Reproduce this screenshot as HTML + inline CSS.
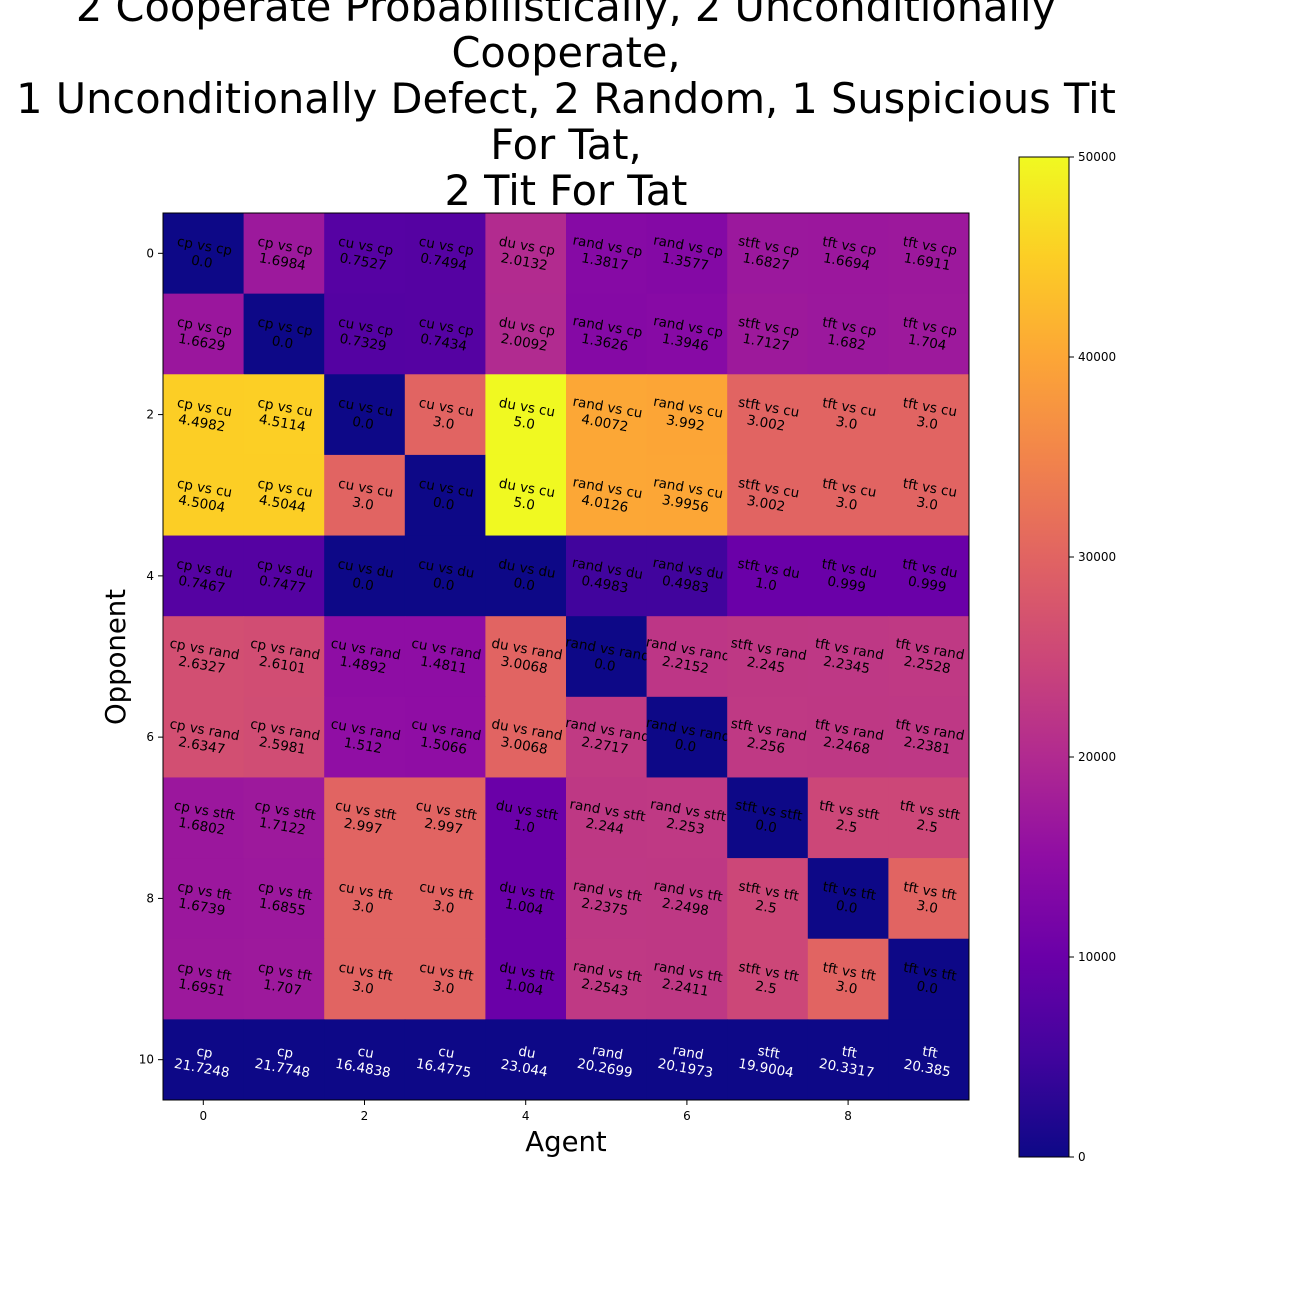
<!DOCTYPE html>
<html><head><meta charset="utf-8"><style>
body{margin:0;background:#fff}
svg{display:block;font-family:"DejaVu Sans","Liberation Sans",sans-serif}
</style></head><body>
<svg id="chart" width="1300" height="1300" viewBox="0 0 1300 1300">
<defs>
<linearGradient id="plasma" x1="0" y1="1" x2="0" y2="0">
<stop offset="0" stop-color="#0d0887"/><stop offset="0.1" stop-color="#41049d"/><stop offset="0.2" stop-color="#6a00a8"/><stop offset="0.3" stop-color="#8f0da4"/><stop offset="0.4" stop-color="#b12a90"/><stop offset="0.5" stop-color="#cc4778"/><stop offset="0.6" stop-color="#e16462"/><stop offset="0.7" stop-color="#f2844b"/><stop offset="0.8" stop-color="#fca636"/><stop offset="0.9" stop-color="#fcce25"/><stop offset="1" stop-color="#f0f921"/>
</linearGradient>
</defs>
<g font-size="41.5" text-anchor="middle" fill="#000">
<text x="566" y="21">2 Cooperate Probabilistically, 2 Unconditionally</text>
<text x="566" y="67">Cooperate,</text>
<text x="566" y="113">1 Unconditionally Defect, 2 Random, 1 Suspicious Tit</text>
<text x="566" y="159">For Tat,</text>
<text x="566" y="205">2 Tit For Tat</text>
</g>
<g id="cells"></g>
<g id="axes"></g>
<text x="566" y="1151" font-size="27.5" text-anchor="middle">Agent</text>
<text transform="translate(125,657) rotate(-90)" font-size="27.5" text-anchor="middle">Opponent</text>
<rect x="1019" y="157" width="50" height="1000" fill="url(#plasma)" stroke="#000" stroke-width="1"/>
<g id="cbticks"></g>
</svg>
<script>
const agents = ["cp","cp","cu","cu","du","rand","rand","stft","tft","tft"];
const scores = [
[0.0,1.6984,0.7527,0.7494,2.0132,1.3817,1.3577,1.6827,1.6694,1.6911],
[1.6629,0.0,0.7329,0.7434,2.0092,1.3626,1.3946,1.7127,1.682,1.704],
[4.4982,4.5114,0.0,3.0,5.0,4.0072,3.992,3.002,3.0,3.0],
[4.5004,4.5044,3.0,0.0,5.0,4.0126,3.9956,3.002,3.0,3.0],
[0.7467,0.7477,0.0,0.0,0.0,0.4983,0.4983,1.0,0.999,0.999],
[2.6327,2.6101,1.4892,1.4811,3.0068,0.0,2.2152,2.245,2.2345,2.2528],
[2.6347,2.5981,1.512,1.5066,3.0068,2.2717,0.0,2.256,2.2468,2.2381],
[1.6802,1.7122,2.997,2.997,1.0,2.244,2.253,0.0,2.5,2.5],
[1.6739,1.6855,3.0,3.0,1.004,2.2375,2.2498,2.5,0.0,3.0],
[1.6951,1.707,3.0,3.0,1.004,2.2543,2.2411,2.5,3.0,0.0]
];
const totals = [21.7248,21.7748,16.4838,16.4775,23.044,20.2699,20.1973,19.9004,20.3317,20.385];
const xTicks = [0,2,4,6,8];
const yTicks = [0,2,4,6,8,10];
const cbTicks = [0,10000,20000,30000,40000,50000];

const X0=163,X1=969,Y0=213,Y1=1100,NC=10,NR=11;
const cw=(X1-X0)/NC, ch=(Y1-Y0)/NR;
const xs=i=>X0+i*cw, ys=j=>Y0+j*ch;
const stops=[[13,8,135],[65,4,157],[106,0,168],[143,13,164],[177,42,144],[204,71,120],[225,100,98],[242,132,75],[252,166,54],[252,206,37],[240,249,33]];
function plasma(t){t=Math.max(0,Math.min(1,t));const f=t*10,i=Math.min(9,Math.floor(f)),r=f-i;const a=stops[i],b=stops[i+1];return `rgb(${a.map((v,k)=>Math.round(v+(b[k]-v)*r)).join(",")})`;}
const NS="http://www.w3.org/2000/svg";
const cells=document.getElementById("cells");
function fmt(v){return Number.isInteger(v)?v.toFixed(1):String(v);}
function addCell(i,j,val,l1,l2,white){
  const r=document.createElementNS(NS,"rect");
  
  
  r.setAttribute("x",xs(i));r.setAttribute("y",ys(j));r.setAttribute("width",cw+0.5);r.setAttribute("height",ch+0.5);
  r.setAttribute("fill",plasma(val/50000));cells.appendChild(r);
  const cx=xs(i)+cw/2, cy=ys(j)+ch/2;
  const t=document.createElementNS(NS,"text");
  
  
  t.setAttribute("transform",`translate(${cx},${cy}) rotate(10)`);
  t.setAttribute("font-size","13.5");t.setAttribute("text-anchor","middle");t.setAttribute("fill",white?"#fff":"#000");
  const a=document.createElementNS(NS,"tspan");a.setAttribute("x",0);a.setAttribute("y",-3);a.textContent=l1;
  const b=document.createElementNS(NS,"tspan");b.setAttribute("x",0);b.setAttribute("y",13);b.textContent=l2;
  t.appendChild(a);t.appendChild(b);cells.appendChild(t);
}
for(let j=0;j<10;j++)for(let i=0;i<NC;i++){const v=scores[j][i];addCell(i,j,v*10000,agents[i]+" vs "+agents[j],fmt(v),false);}
for(let i=0;i<NC;i++)addCell(i,10,0,agents[i],fmt(totals[i]),true);
const axes=document.getElementById("axes");
function el(tag,attrs,txt,name){const e=document.createElementNS(NS,tag);for(const k in attrs)e.setAttribute(k,attrs[k]);if(txt!==undefined)e.textContent=txt;return e;}
axes.appendChild(el("rect",{x:X0,y:Y0,width:X1-X0,height:Y1-Y0,fill:"none",stroke:"#000","stroke-width":1},undefined,"plot-frame"));
xTicks.forEach(v=>{const x=xs(v)+cw/2;axes.appendChild(el("line",{x1:x,x2:x,y1:Y1,y2:Y1+5,stroke:"#000"},undefined,"x-tick"));axes.appendChild(el("text",{x:x,y:Y1+20,"font-size":12,"text-anchor":"middle"},v,"x-tick-label"));});
yTicks.forEach(v=>{const y=ys(v)+ch/2;axes.appendChild(el("line",{x1:X0-5,x2:X0,y1:y,y2:y,stroke:"#000"},undefined,"y-tick"));axes.appendChild(el("text",{x:X0-9,y:y+4,"font-size":12,"text-anchor":"end"},v,"y-tick-label"));});
const cb=document.getElementById("cbticks");
cbTicks.forEach(v=>{const y=1157-v/50000*1000;cb.appendChild(el("line",{x1:1069,x2:1074,y1:y,y2:y,stroke:"#000"},undefined,"colorbar-tick"));cb.appendChild(el("text",{x:1078,y:y+4,"font-size":12},v,"colorbar-tick-label"));});
</script>
</body></html>
